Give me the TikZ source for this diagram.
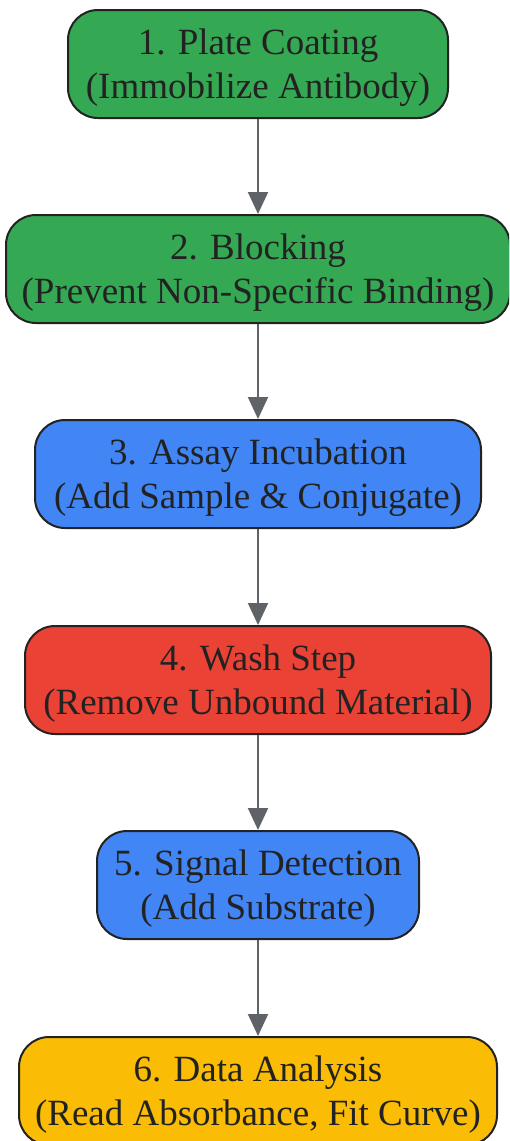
\documentclass[tikz,border=0pt]{standalone}
\usepackage{fontspec}
\setmainfont{Liberation Serif}
\usetikzlibrary{arrows.meta}
\definecolor{ggreen}{HTML}{34A853}
\definecolor{gblue}{HTML}{4285F4}
\definecolor{gred}{HTML}{EA4335}
\definecolor{gyellow}{HTML}{FBBC05}
\definecolor{txt}{HTML}{222222}
\definecolor{arr}{HTML}{5F6368}
\tikzset{
  stepbox/.style={draw=txt, line width=2pt, rounded corners=30pt, align=center,
    text=txt, font=\fontsize{37}{44}\selectfont, inner sep=0pt, minimum height=108pt,
    text depth=-6pt},
  flow/.style={draw=arr, line width=2pt, -{Triangle[length=22pt,width=20pt]}}
}
\begin{document}
\begin{tikzpicture}[x=1pt,y=-1pt]
\useasboundingbox (0,0) rectangle (509,1141);
\clip (0,0) rectangle (509,1141);
\node[stepbox, fill=ggreen, minimum width=380pt] (n1) at (258,64) {1. Plate Coating\\(Immobilize Antibody)};
\node[stepbox, fill=ggreen, minimum width=504pt] (n2) at (258,269) {2. Blocking\\(Prevent Non-Specific Binding)};
\node[stepbox, fill=gblue, minimum width=446pt] (n3) at (258,474) {3. Assay Incubation\\(Add Sample \& Conjugate)};
\node[stepbox, fill=gred, minimum width=466pt] (n4) at (258,680) {4. Wash Step\\(Remove Unbound Material)};
\node[stepbox, fill=gblue, minimum width=322pt] (n5) at (258,885) {5. Signal Detection\\(Add Substrate)};
\node[stepbox, fill=gyellow, minimum width=478pt] (n6) at (258,1091) {6. Data Analysis\\(Read Absorbance, Fit Curve)};
\draw[flow] (n1) -- (n2);
\draw[flow] (n2) -- (n3);
\draw[flow] (n3) -- (n4);
\draw[flow] (n4) -- (n5);
\draw[flow] (n5) -- (n6);
\end{tikzpicture}
\end{document}
